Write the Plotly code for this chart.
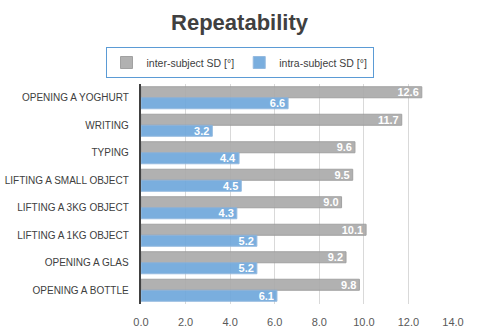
import plotly.graph_objects as go

# Tasks, top to bottom
tasks = [
    "OPENING A YOGHURT",
    "WRITING",
    "TYPING",
    "LIFTING A SMALL OBJECT",
    "LIFTING A 3KG OBJECT",
    "LIFTING A 1KG OBJECT",
    "OPENING A GLAS",
    "OPENING A BOTTLE",
]
inter_sd = [12.6, 11.7, 9.6, 9.5, 9.0, 10.1, 9.2, 9.8]
intra_sd = [6.6, 3.2, 4.4, 4.5, 4.3, 5.2, 5.2, 6.1]
x_ticks = [0, 2, 4, 6, 8, 10, 12, 14]

FONT = "Liberation Sans, Arial, sans-serif"

fig = go.Figure()
fig.add_trace(go.Bar(
    y=tasks, x=inter_sd, orientation="h", name="inter-subject SD [°]",
    marker=dict(color="#ABABAB", line=dict(color="#9A9A9A", width=1)),
    opacity=0.92,
    texttemplate="<b>%{x:.1f}</b>", textposition="inside", insidetextanchor="end",
    textfont=dict(color="white", size=11, family=FONT),
))
fig.add_trace(go.Bar(
    y=tasks, x=intra_sd, orientation="h", name="intra-subject SD [°]",
    marker=dict(color="#6FA8DC", line=dict(color="#8DB5DD", width=1)),
    opacity=0.92,
    texttemplate="<b>%{x:.1f}</b>", textposition="inside", insidetextanchor="end",
    textfont=dict(color="white", size=11, family=FONT),
))

fig.update_layout(
    width=479, height=335,
    margin=dict(l=141, r=26, t=84, b=31, autoexpand=False),
    paper_bgcolor="white", plot_bgcolor="white",
    barmode="group", bargap=0.2, bargroupgap=0,
    font=dict(family=FONT, color="#404040", size=11),
    title=dict(text="<b>Repeatability</b>", x=0.5, xref="container", xanchor="center",
               y=1 - 22 / 335, yref="container", yanchor="middle",
               font=dict(size=22, color="#404040", family=FONT)),
    legend=dict(orientation="h", x=0.5, xref="container", xanchor="center",
                y=1 - 47 / 335, yref="container", yanchor="top",
                bordercolor="#5B9BD5", borderwidth=1, bgcolor="white",
                font=dict(size=10.5, color="#404040", family=FONT),
                traceorder="normal", itemwidth=30),
    uniformtext=dict(mode="show", minsize=8),
)
fig.update_xaxes(range=[0, 14], tickvals=x_ticks, tickformat=".1f",
                 showgrid=True, gridcolor="#D9D9D9", gridwidth=1,
                 zeroline=False, showline=False, ticks="", automargin=False,
                 ticklabelstandoff=10,
                 tickfont=dict(size=11, color="#595959"))
fig.update_yaxes(autorange="reversed", showline=True, linecolor="#404040", linewidth=2,
                 ticks="", ticksuffix="   ", automargin=False,
                 tickfont=dict(size=10, color="#404040"))

fig.write_html("out.html")
